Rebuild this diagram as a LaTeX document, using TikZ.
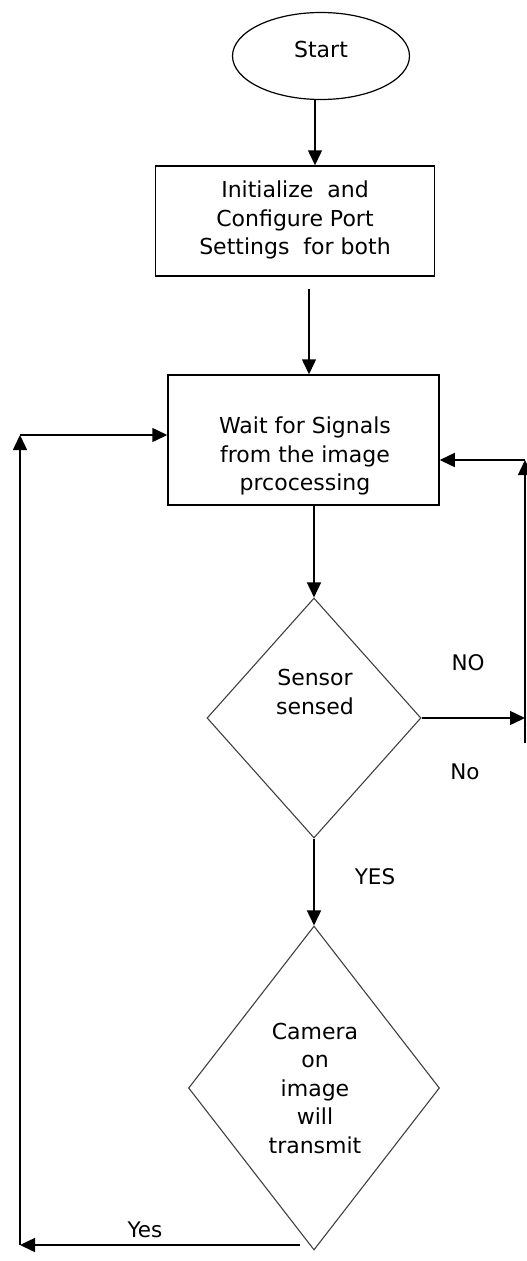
\documentclass[tikz,border=0pt]{standalone}
\usepackage{fontspec}
\setmainfont{DejaVu Sans}
\usetikzlibrary{shapes.geometric,arrows.meta}
\begin{document}
\begin{tikzpicture}[x=1pt,y=-1pt, line width=1.5pt,
  arr/.style={-{Triangle[length=15pt,width=14pt]}},
  txt/.style={font=\fontsize{22}{28.5}\selectfont, align=center},
  lbl/.style={font=\fontsize{21.5}{24}\selectfont},
  fshape/.style={draw, inner sep=0pt},
  dia/.style={draw=black!75, diamond, inner sep=0pt, line width=1.1pt}]
\useasboundingbox (0,0) rectangle (527,1261);
\node[fshape, ellipse, line width=1.2pt, minimum width=177, minimum height=87] (start) at (321,56) {};
\node[txt] (starttxt) at (321,49) {Start};
\node[fshape, rectangle, minimum width=279, minimum height=110] (init) at (295,221) {};
\node[txt] (inittxt) at (295,220) {Initialize\ \ and\\Configure Port\\Settings\ \ for both};
\node[fshape, rectangle, minimum width=271, minimum height=130] (wait) at (303.5,440) {};
\node[txt] (waittxt) at (305,456) {Wait for Signals\\from the image\\prcocessing};
\node[dia, minimum width=214, minimum height=240] (sense) at (314,718) {};
\node[txt] (sensetxt) at (315,692) {Sensor\\sensed};
\node[dia, minimum width=251, minimum height=324] (cam) at (314,1088) {};
\node[txt] (camtxt) at (315,1088) {Camera\\on\\image\\will\\transmit};
% connectors
\draw[arr] ([xshift=-6]start.south) -- ([xshift=-6]start.south |- init.north);
\draw[arr] ([shift={(14,12)}]init.south) -- ([xshift=5.5]wait.north);
\draw[arr] (wait.south -| sense.north) -- (sense.north);
\coordinate (r) at (525,718);
\coordinate (rb) at (525,743);
\coordinate (rt) at (525,460);
\draw[arr] (sense.east) -- (r);
\draw[arr] (rb) -- (rt);
\draw[arr] (rt) -- (wait.east |- rt);
\draw[arr] (sense.south) -- (cam.north);
\coordinate (bs) at (300,1245);
\coordinate (bl) at (20,1245);
\coordinate (lt) at (20,435);
\draw[arr] (bs) -- (bl);
\draw[arr] (bl) -- (lt);
\draw[arr] (lt) -- (wait.west |- lt);
% labels
\node[lbl] (no1) at (468,663) {NO};
\node[lbl] (no2) at (465,772) {No};
\node[lbl] (yes1) at (375,877) {YES};
\node[lbl] (yes2) at (145,1230) {Yes};
\end{tikzpicture}
\end{document}
